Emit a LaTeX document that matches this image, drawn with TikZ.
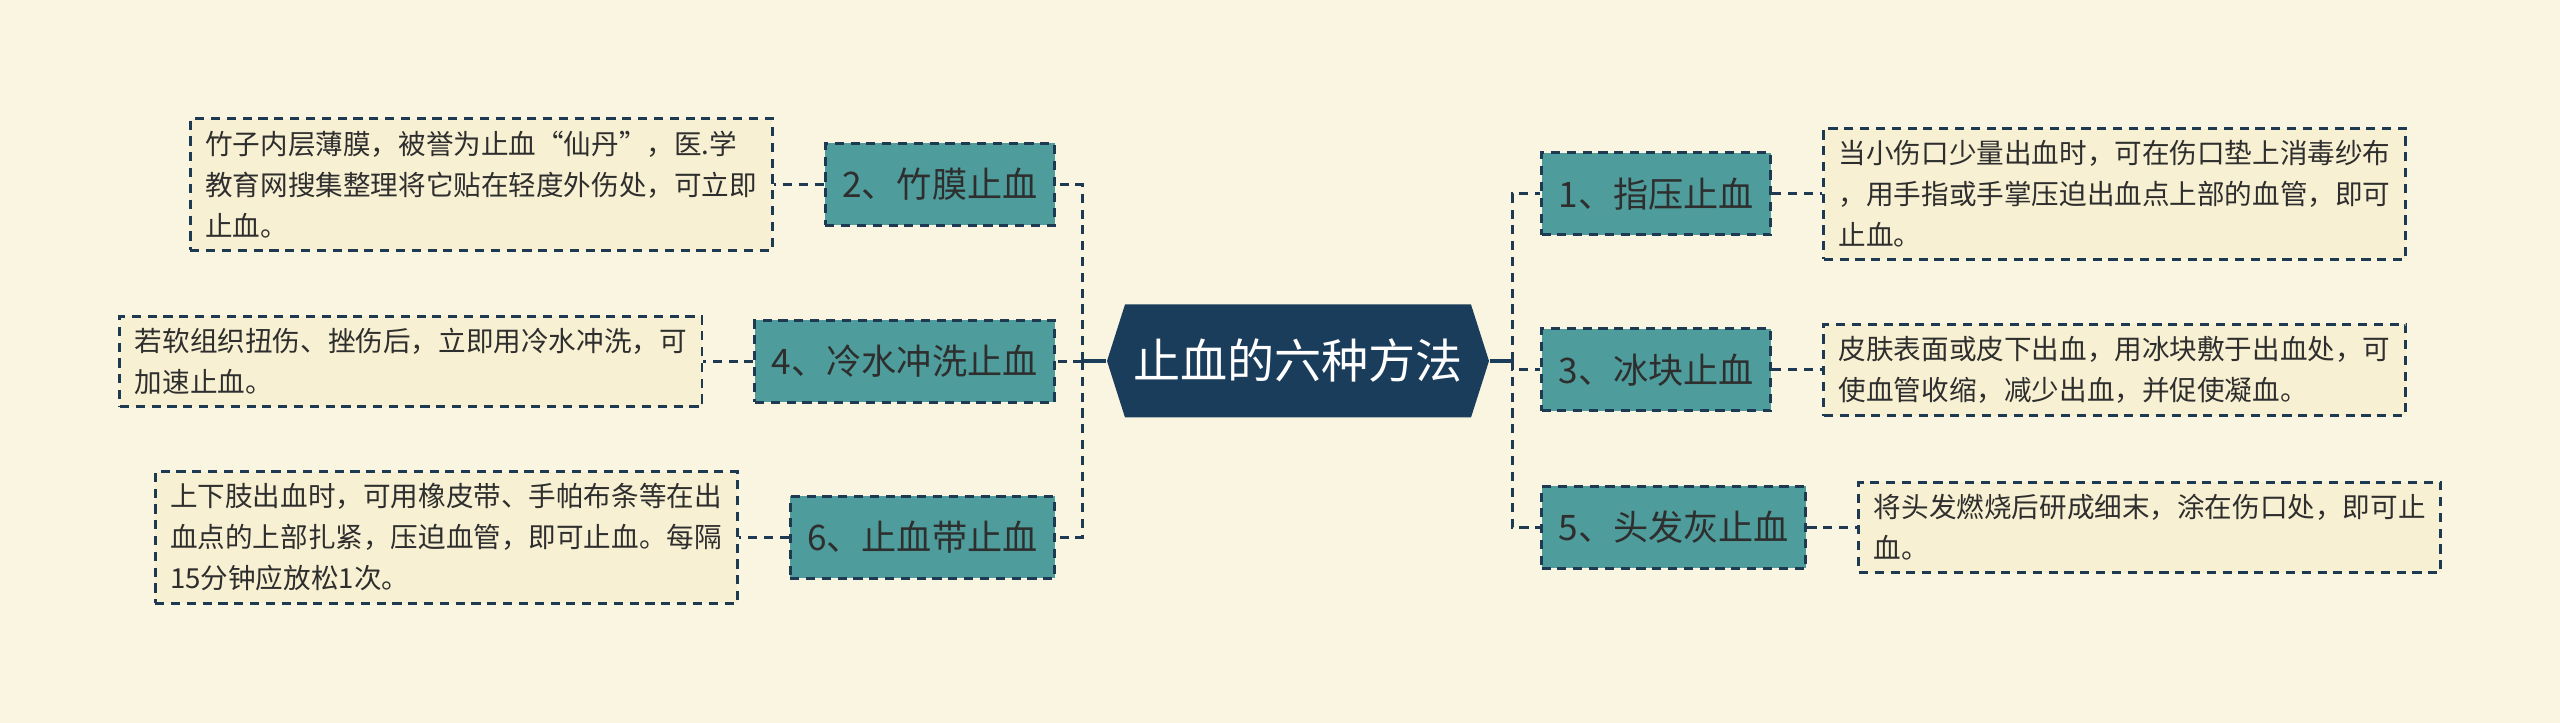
\documentclass[tikz,border=0pt]{standalone}
\usepackage{fontspec}
\setmainfont{Noto Sans CJK SC}
\usepackage{xcolor}
\usepackage{tikz}
\usetikzlibrary{positioning}
\definecolor{paper}{HTML}{FAF5E1}
\definecolor{navy}{HTML}{1B3D5C}
\definecolor{teal}{HTML}{4E9C9B}
\definecolor{cream}{HTML}{F7F0D2}
\definecolor{ink}{HTML}{1E3A52}
\definecolor{txt}{HTML}{2E2E2E}
\tikzset{
  dashline/.style={draw=ink, dash pattern=on 2.6pt off 1.9pt, line width=0.85pt},
  hub/.style={rectangle, fill=paper, minimum width=3.82cm, minimum height=1.13cm, inner sep=0pt,
              text=white, font=\fontsize{13.4pt}{16pt}\selectfont,
              path picture={\fill[navy] (path picture bounding box.west)
                -- ([xshift=1.8mm]path picture bounding box.north west)
                -- ([xshift=-1.8mm]path picture bounding box.north east)
                -- (path picture bounding box.east)
                -- ([xshift=-1.8mm]path picture bounding box.south east)
                -- ([xshift=1.8mm]path picture bounding box.south west) -- cycle;}},
  topicbox/.style={rectangle, dashline, fill=teal, text=txt, minimum height=0.82cm,
                   inner xsep=0.17cm, font=\fontsize{10pt}{12pt}\selectfont},
  notebox/.style={rectangle, dashline, fill=cream, text=txt, text width=5.52cm, align=left,
                  inner xsep=0.15cm, inner ysep=0.12cm, font=\fontsize{7.85pt}{11.67pt}\selectfont},
  link/.style={dashline},
  stem/.style={draw=navy, line width=0.9pt}
}
\begin{document}
\begin{tikzpicture}[node distance=5mm]
 \fill[paper] (0,0) rectangle (25.6,-7.23);
 \node[hub] (hub) at (12.98,-3.61) {止血的六种方法};
 \node[topicbox, anchor=east] (t2) at (10.56,-1.845) {2、竹膜止血};
 \node[topicbox, anchor=east] (t4) at (10.56,-3.615) {4、冷水冲洗止血};
 \node[topicbox, anchor=east] (t6) at (10.56,-5.375) {6、止血带止血};
 \node[topicbox, anchor=west] (t1) at (15.40,-1.94) {1、指压止血};
 \node[topicbox, anchor=west] (t3) at (15.40,-3.70) {3、冰块止血};
 \node[topicbox, anchor=west] (t5) at (15.40,-5.275) {5、头发灰止血};
 \node[notebox, left=of t2] (d2) {竹子内层薄膜，被誉为止血“仙丹”，医.学\\教育网搜集整理将它贴在轻度外伤处，可立即\\止血。};
 \node[notebox, left=of t4] (d4) {若软组织扭伤、挫伤后，立即用冷水冲洗，可\\加速止血。};
 \node[notebox, left=of t6] (d6) {上下肢出血时，可用橡皮带、手帕布条等在出\\血点的上部扎紧，压迫血管，即可止血。每隔\\15分钟应放松1次。};
 \node[notebox, right=of t1] (d1) {当小伤口少量出血时，可在伤口垫上消毒纱布\\，用手指或手掌压迫出血点上部的血管，即可\\止血。};
 \node[notebox, right=of t3] (d3) {皮肤表面或皮下出血，用冰块敷于出血处，可\\使血管收缩，减少出血，并促使凝血。};
 \node[notebox, right=of t5] (d5) {将头发燃烧后研成细末，涂在伤口处，即可止\\血。};
 \coordinate (lj) at (10.82,-3.61);
 \coordinate (rj) at (15.12,-3.61);
 \draw[stem] (hub.west) -- (lj); \draw[stem] (hub.east) -- (rj);
 \foreach \t in {t2,t4,t6} \draw[link] (lj) |- (\t.east);
 \foreach \t in {t1,t3,t5} \draw[link] (rj) |- (\t.west);
 \foreach \i in {1,...,6} \draw[link] (t\i) -- (d\i);
\end{tikzpicture}
\end{document}
